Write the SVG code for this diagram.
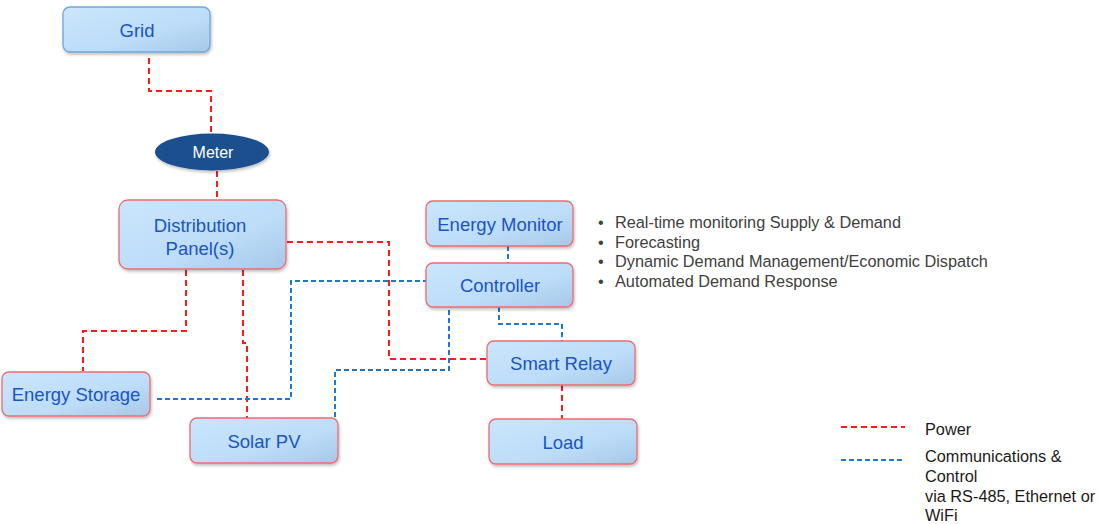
<svg xmlns="http://www.w3.org/2000/svg" width="1099" height="524" viewBox="0 0 1099 524">
<defs>
<linearGradient id="nodeFill" x1="0" y1="0" x2="1" y2="1">
<stop offset="0" stop-color="#cbe6fd"/>
<stop offset="0.6" stop-color="#bcdcf8"/>
<stop offset="1" stop-color="#a6c8e8"/>
</linearGradient>
<filter id="shadow" x="-10%" y="-10%" width="125%" height="135%">
<feDropShadow dx="1" dy="2" stdDeviation="1.5" flood-color="#000" flood-opacity="0.25"/>
</filter>
</defs>
<style>
.node{fill:url(#nodeFill);stroke:#ee6b72;stroke-width:1.3;filter:url(#shadow)}
.nodeb{fill:url(#nodeFill);stroke:#6fa6dc;stroke-width:1.3;filter:url(#shadow)}
.lbl{font-family:"Liberation Sans",Arial,sans-serif;font-size:18.5px;fill:#1a55c0;text-anchor:middle}
.pw{fill:none;stroke:#ff1a1a;stroke-width:2;stroke-dasharray:6,4}
.cm{fill:none;stroke:#1f78c8;stroke-width:2;stroke-dasharray:5,3}
.txt{font-family:"Liberation Sans",Arial,sans-serif;font-size:16.3px;fill:#404040}
.leg{font-family:"Liberation Sans",Arial,sans-serif;font-size:16.3px;fill:#1a1a1a}
</style>
<rect width="1099" height="524" fill="#ffffff"/>
<g id="connectors">
<path class="pw" d="M149,58 V91 H211 V134"/>
<path class="pw" d="M217,171 V199"/>
<path class="pw" d="M186,270 V331 H83 V371"/>
<path class="pw" d="M243,270 V343 H247 V418"/>
<path class="pw" d="M287,242 H389 V359 H487"/>
<path class="pw" d="M562,385 V419"/>
<path class="cm" d="M157,399 H291 V281 H426"/>
<path class="cm" d="M335,433 V370 H449 V307"/>
<path class="cm" d="M508,246 V268"/>
<path class="cm" d="M499,307 V324 H562 V341"/>
</g>
<g id="grid"><rect class="nodeb" x="63" y="7" width="147" height="45" rx="7"/><text class="lbl" x="137" y="37">Grid</text></g>
<g id="meter"><ellipse cx="212" cy="152" rx="57" ry="18.5" fill="#1b4f8e" filter="url(#shadow)"/><text x="213" y="158" font-family="Liberation Sans,Arial,sans-serif" font-size="16" fill="#ffffff" text-anchor="middle">Meter</text></g>
<g id="panel"><rect class="node" x="119" y="200" width="167" height="69" rx="9"/><text class="lbl" x="200" y="232">Distribution</text><text class="lbl" x="200" y="255">Panel(s)</text></g>
<g id="monitor"><rect class="node" x="426" y="201" width="147" height="45" rx="7"/><text class="lbl" x="500" y="231">Energy Monitor</text></g>
<g id="controller"><rect class="node" x="426" y="263" width="147" height="44" rx="7"/><text class="lbl" x="500" y="292">Controller</text></g>
<g id="relay"><rect class="node" x="487" y="341" width="148" height="44" rx="7"/><text class="lbl" x="561" y="370">Smart Relay</text></g>
<g id="load"><rect class="node" x="489" y="419" width="148" height="45" rx="7"/><text class="lbl" x="563" y="449">Load</text></g>
<g id="storage"><rect class="node" x="2" y="372" width="148" height="44" rx="7"/><text class="lbl" x="76" y="401">Energy Storage</text></g>
<g id="solar"><rect class="node" x="190" y="418" width="148" height="45" rx="7"/><text class="lbl" x="264" y="448">Solar PV</text></g>
<g id="bullets" class="txt">
<text x="598" y="228">•</text><text x="615" y="228">Real-time monitoring Supply &amp; Demand</text>
<text x="598" y="248">•</text><text x="615" y="248">Forecasting</text>
<text x="598" y="267">•</text><text x="615" y="267">Dynamic Demand Management/Economic Dispatch</text>
<text x="598" y="287">•</text><text x="615" y="287">Automated Demand Response</text>
</g>
<g id="legend">
<path class="pw" d="M841,427 H905"/>
<path class="cm" d="M841,460 H905"/>
<text class="leg" x="925" y="435">Power</text>
<text class="leg" x="925" y="462">Communications &amp;</text>
<text class="leg" x="925" y="482">Control</text>
<text class="leg" x="925" y="502">via RS-485, Ethernet or</text>
<text class="leg" x="925" y="521">WiFi</text>
</g>
</svg>
